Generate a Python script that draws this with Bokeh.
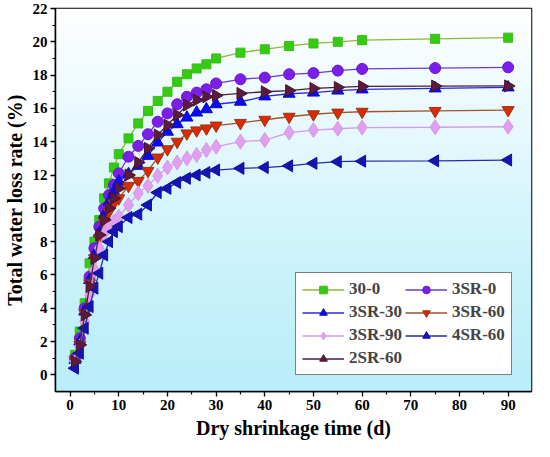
import numpy as np
from bokeh.plotting import figure
from bokeh.models import Range1d, Legend, LegendItem, FixedTicker
from bokeh.embed import file_html
from bokeh.resources import INLINE

days = [1, 2, 3, 4, 5, 6, 7, 8, 9, 10, 12, 14, 16, 18, 20, 22, 24, 26, 28, 30,
        35, 40, 45, 50, 55, 60, 75, 90]

s_30_0 = [1.2, 2.6, 4.3, 6.7, 8.0, 9.3, 10.6, 11.5, 12.45, 13.25, 14.2, 15.1, 15.85,
          16.45, 17.0, 17.6, 18.05, 18.4, 18.65, 19.0, 19.35, 19.55, 19.75, 19.9,
          20.0, 20.1, 20.18, 20.25]
s_3sr_0 = [1.0, 2.2, 4.0, 5.9, 7.6, 8.9, 10.0, 10.8, 11.4, 12.1, 13.1, 13.75, 14.45,
           15.2, 15.7, 16.25, 16.7, 16.95, 17.15, 17.5, 17.75, 17.85, 18.05, 18.12,
           18.27, 18.37, 18.42, 18.47]
s_3sr_30 = [0.9, 2.0, 3.8, 5.7, 7.2, 8.5, 9.6, 10.4, 11.0, 11.6, 12.05, 12.55, 13.15,
            13.95, 14.6, 15.05, 15.45, 15.75, 15.95, 16.25, 16.4, 16.72, 16.88, 16.95,
            17.07, 17.14, 17.2, 17.26]
s_3sr_60 = [0.9, 1.8, 3.7, 5.5, 7.0, 8.2, 9.2, 9.8, 10.3, 10.6, 11.35, 11.65, 12.25,
            13.05, 13.55, 14.0, 14.5, 14.68, 14.8, 14.97, 15.13, 15.32, 15.5, 15.65,
            15.75, 15.8, 15.85, 15.9]
s_3sr_90 = [0.8, 1.7, 3.2, 4.8, 6.3, 7.6, 8.5, 8.9, 9.2, 9.5, 10.2, 10.9, 11.35,
            11.95, 12.45, 12.75, 13.0, 13.2, 13.5, 13.7, 14.0, 14.1, 14.55, 14.7,
            14.78, 14.85, 14.87, 14.9]
s_4sr_60 = [0.4, 1.3, 2.8, 4.1, 5.2, 6.1, 7.2, 8.0, 8.6, 8.9, 9.45, 9.65, 10.2,
            10.95, 11.2, 11.55, 11.8, 12.0, 12.15, 12.3, 12.4, 12.45, 12.55, 12.7,
            12.8, 12.83, 12.85, 12.9]
s_2sr_60 = [0.8, 1.8, 3.6, 5.3, 7.0, 8.4, 9.3, 10.0, 10.6, 11.2, 12.0, 12.75, 13.6,
            14.4, 15.0, 15.6, 16.2, 16.5, 16.7, 16.78, 16.9, 17.0, 17.07, 17.2,
            17.26, 17.32, 17.34, 17.35]

labels = ["30-0", "3SR-0", "3SR-30", "3SR-60", "3SR-90", "4SR-60", "2SR-60"]
series = [s_30_0, s_3sr_0, s_3sr_30, s_3sr_60, s_3sr_90, s_4sr_60, s_2sr_60]
# legend reading order (two columns, filled column by column)
legend_order = ["30-0", "3SR-30", "3SR-90", "2SR-60", "3SR-0", "3SR-60", "4SR-60"]

x_ticks = [0, 10, 20, 30, 40, 50, 60, 70, 80, 90]
y_ticks = [0, 2, 4, 6, 8, 10, 12, 14, 16, 18, 20, 22]

X0, X1 = -3, 94.8
Y0, Y1 = -1, 22

FONT = "Liberation Serif"

p = figure(width=534, height=441, x_range=Range1d(X0, X1), y_range=Range1d(Y0, Y1),
           output_backend="svg", toolbar_location=None,
           min_border_left=10, min_border_right=3, min_border_top=8, min_border_bottom=10)

# background gradient (white at top to light cyan at bottom)
n = 128
t = np.linspace(0, 1, n)  # 0 bottom, 1 top
top = np.array([255, 255, 255])
bot = np.array([186, 238, 250])
img = np.empty((n, 2), dtype=np.uint32)
view = img.view(dtype=np.uint8).reshape((n, 2, 4))
for i in range(n):
    c = bot + (top - bot) * (t[i] ** 1.2)
    view[i, :, 0] = int(c[0])
    view[i, :, 1] = int(c[1])
    view[i, :, 2] = int(c[2])
    view[i, :, 3] = 255
p.image_rgba(image=[img], x=X0, y=Y0, dw=X1 - X0, dh=Y1 - Y0, level="underlay")

styles = [
    dict(marker="square", size=9, fill="#33cc11", edge="#3cb81c", line="#8cb83a", angle=0.0),
    dict(marker="circle", size=11, fill="#7a1ee8", edge="#6a18d0", line="#6a3bd0", angle=0.0),
    dict(marker="triangle", size=12, fill="#0a0af0", edge="#0808c8", line="#2a2ad8", angle=0.0),
    dict(marker="inverted_triangle", size=12, fill="#dd2a00", edge="#8b3a1a", line="#a0522d", angle=0.0),
    dict(marker="diamond", size=15, fill="#e0a0ee", edge="#d898ea", line="#d59ce8", angle=0.0),
    dict(marker="triangle", size=12, fill="#1414b4", edge="#10109a", line="#2b2ba6", angle=np.pi / 2),
    dict(marker="triangle", size=12, fill="#5c1a3c", edge="#4a1232", line="#4a1f3a", angle=-np.pi / 2),
]

item_map = {}
for lab, vals, st in zip(labels, series, styles):
    lr = p.line(days, vals, line_color=st["line"], line_width=1.3)
    sr = p.scatter(days, vals, marker=st["marker"], size=st["size"], angle=st["angle"],
                   fill_color=st["fill"], line_color=st["edge"], line_width=1)
    item_map[lab] = LegendItem(label=lab, renderers=[lr, sr])

items = [item_map[k] for k in legend_order]

legend = Legend(items=items, ncols=2, location=(240, 16),
                label_text_font=FONT, label_text_font_style="bold", label_text_font_size="17px",
                glyph_width=42, glyph_height=19, spacing=3, padding=6, label_standoff=5,
                border_line_color="black", border_line_width=1.2, background_fill_color="white",
                background_fill_alpha=1.0, margin=0)
p.add_layout(legend)

p.xgrid.visible = False
p.ygrid.visible = False

p.xaxis.ticker = FixedTicker(ticks=x_ticks, minor_ticks=[5, 15, 25, 35, 45, 55, 65, 75, 85])
p.yaxis.ticker = FixedTicker(ticks=y_ticks, minor_ticks=[1, 3, 5, 7, 9, 11, 13, 15, 17, 19, 21])

p.xaxis.axis_label = "Dry shrinkage time (d)"
p.yaxis.axis_label = "Total water loss rate (%)"

for ax in [p.xaxis[0], p.yaxis[0]]:
    ax.axis_label_text_font = FONT
    ax.axis_label_text_font_style = "bold"
    ax.axis_label_text_font_size = "20px"
    ax.major_label_text_font = FONT
    ax.major_label_text_font_style = "bold"
    ax.major_label_text_font_size = "15px"
    ax.major_label_text_color = "black"
    ax.axis_label_text_color = "black"
    ax.axis_line_color = "black"
    ax.axis_line_width = 1.5
    ax.major_tick_line_color = "black"
    ax.major_tick_line_width = 1.3
    ax.minor_tick_line_color = "black"
    ax.minor_tick_line_width = 1.2
    ax.major_tick_in = 0
    ax.major_tick_out = 5
    ax.minor_tick_in = 0
    ax.minor_tick_out = 3
    ax.major_label_standoff = 3
    ax.axis_label_standoff = 4

p.outline_line_color = "black"
p.outline_line_width = 1.5
p.border_fill_color = "white"

open("out.html", "w").write(file_html(p, INLINE))
